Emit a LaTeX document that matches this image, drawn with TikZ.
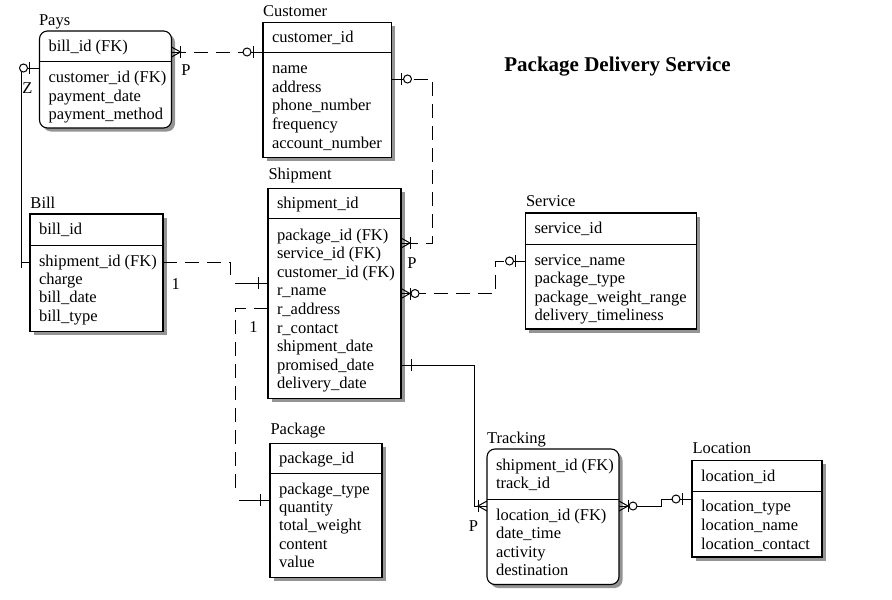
\documentclass[tikz,border=0pt]{standalone}
\usepackage{fontspec}
\setmainfont{Liberation Serif}
\usetikzlibrary{calc,shadows}

\tikzset{
  entity/.style={draw, line width=1.1pt, fill=white, anchor=north west,
    inner sep=0pt, outer sep=0pt,
    drop shadow={shadow xshift=3.5pt, shadow yshift=-3.5pt, fill=black!42, opacity=1}},
  enttitle/.style={anchor=base west, inner sep=0pt, font=\fontsize{16.5}{18}\selectfont},
  attrib/.style={anchor=base west, inner sep=0pt, font=\fontsize{16.5}{18}\selectfont},
  cardlabel/.style={inner sep=0pt, font=\fontsize{16.5}{18}\selectfont},
  nonid/.style={dash pattern=on 14pt off 8pt},
  pics/onebar/.style={code={
    \draw (0,0) -- (12,0);
    \draw (10,-6) -- (10,6);
  }},
  pics/zeroone/.style={code={
    \draw (0,0) -- (20,0);
    \draw (10,-6) -- (10,6);
    \draw[fill=white] (16,0) circle (4);
  }},
  pics/manybar/.style={code={
    \draw (0,0) -- (12,0);
    \draw (0,-5) -- (9,0) -- (0,5);
    \draw (9,-6) -- (9,6);
  }},
  pics/manyzero/.style={code={
    \draw (0,0) -- (18,0);
    \draw (0,-5) -- (9,0) -- (0,5);
    \draw (9.5,-6) -- (9.5,6);
    \draw[fill=white] (14,0) circle (4);
  }},
}

\begin{document}
\begin{tikzpicture}[x=1pt,y=-1pt,line width=1pt]
\useasboundingbox (0,0) rectangle (892,600);

\node[anchor=base, inner sep=0pt, font=\fontsize{21}{25}\selectfont\bfseries] (head) at (617.5,71.5) {Package Delivery Service};

%entities
\node[entity, rounded corners=8pt, minimum width=132pt, minimum height=97pt] (pays) at (39.5,31) {};
\draw ($(pays.north west)+(0,30.5)$) -- ($(pays.north east)+(0,30.5)$);
\node[enttitle] (paysT) at (38.5,25) {Pays};
\node[attrib] (pays0) at (48,51.5) {bill\_id (FK)};
\node[attrib] (pays1) at (48,82.5) {customer\_id (FK)};
\node[attrib] (pays2) at (48,101) {payment\_date};
\node[attrib] (pays3) at (48,119.5) {payment\_method};

\node[entity, minimum width=128.5pt, minimum height=135pt] (cust) at (263,22.5) {};
\draw ($(cust.north west)+(0,30)$) -- ($(cust.north east)+(0,30)$);
\node[enttitle] (custT) at (262.5,16.5) {Customer};
\node[attrib] (cust0) at (271.5,42) {customer\_id};
\node[attrib] (cust1) at (271.5,73.3) {name};
\node[attrib] (cust2) at (271.5,92) {address};
\node[attrib] (cust3) at (271.5,110.8) {phone\_number};
\node[attrib] (cust4) at (271.5,129.5) {frequency};
\node[attrib] (cust5) at (271.5,148.3) {account\_number};

\node[entity, minimum width=133pt, minimum height=210.5pt] (ship) at (268,188.3) {};
\draw ($(ship.north west)+(0,30.5)$) -- ($(ship.north east)+(0,30.5)$);
\node[enttitle] (shipT) at (268,179.5) {Shipment};
\node[attrib] (ship0) at (276.5,208.3) {shipment\_id};
\node[attrib] (ship1) at (276.5,240) {package\_id (FK)};
\node[attrib] (ship2) at (276.5,258.6) {service\_id (FK)};
\node[attrib] (ship3) at (276.5,277.2) {customer\_id (FK)};
\node[attrib] (ship4) at (276.5,295.8) {r\_name};
\node[attrib] (ship5) at (276.5,314.4) {r\_address};
\node[attrib] (ship6) at (276.5,333) {r\_contact};
\node[attrib] (ship7) at (276.5,351.6) {shipment\_date};
\node[attrib] (ship8) at (276.5,370.2) {promised\_date};
\node[attrib] (ship9) at (276.5,388.8) {delivery\_date};

\node[entity, minimum width=133pt, minimum height=117.5pt] (bill) at (30,214) {};
\draw ($(bill.north west)+(0,31)$) -- ($(bill.north east)+(0,31)$);
\node[enttitle] (billT) at (30,208) {Bill};
\node[attrib] (bill0) at (38.5,234) {bill\_id};
\node[attrib] (bill1) at (38.5,266) {shipment\_id (FK)};
\node[attrib] (bill2) at (38.5,284.3) {charge};
\node[attrib] (bill3) at (38.5,302.6) {bill\_date};
\node[attrib] (bill4) at (38.5,321) {bill\_type};

\node[entity, minimum width=171pt, minimum height=116pt] (serv) at (525.5,213) {};
\draw ($(serv.north west)+(0,31)$) -- ($(serv.north east)+(0,31)$);
\node[enttitle] (servT) at (525.5,206.5) {Service};
\node[attrib] (serv0) at (534,233.3) {service\_id};
\node[attrib] (serv1) at (534,265) {service\_name};
\node[attrib] (serv2) at (534,283.5) {package\_type};
\node[attrib] (serv3) at (534,302) {package\_weight\_range};
\node[attrib] (serv4) at (534,320.5) {delivery\_timeliness};

\node[entity, minimum width=112pt, minimum height=134.5pt] (pkg) at (270,443.3) {};
\draw ($(pkg.north west)+(0,30)$) -- ($(pkg.north east)+(0,30)$);
\node[enttitle] (pkgT) at (270,434.5) {Package};
\node[attrib] (pkg0) at (278.5,463.3) {package\_id};
\node[attrib] (pkg1) at (278.5,494) {package\_type};
\node[attrib] (pkg2) at (278.5,512.4) {quantity};
\node[attrib] (pkg3) at (278.5,530.8) {total\_weight};
\node[attrib] (pkg4) at (278.5,549.2) {content};
\node[attrib] (pkg5) at (278.5,567.5) {value};

\node[entity, rounded corners=8pt, minimum width=132pt, minimum height=135.5pt] (track) at (487,449) {};
\draw ($(track.north west)+(0,50)$) -- ($(track.north east)+(0,50)$);
\node[enttitle] (trackT) at (486.5,443.3) {Tracking};
\node[attrib] (track0) at (495.5,470.7) {shipment\_id (FK)};
\node[attrib] (track1) at (495.5,488.5) {track\_id};
\node[attrib] (track2) at (495.5,520) {location\_id (FK)};
\node[attrib] (track3) at (495.5,538.6) {date\_time};
\node[attrib] (track4) at (495.5,557.2) {activity};
\node[attrib] (track5) at (495.5,575.8) {destination};

\node[entity, minimum width=130pt, minimum height=96.5pt] (loc) at (692,460.5) {};
\draw ($(loc.north west)+(0,31)$) -- ($(loc.north east)+(0,31)$);
\node[enttitle] (locT) at (692,453.3) {Location};
\node[attrib] (loc0) at (700.5,481) {location\_id};
\node[attrib] (loc1) at (700.5,511) {location\_type};
\node[attrib] (loc2) at (700.5,530) {location\_name};
\node[attrib] (loc3) at (700.5,549) {location\_contact};

%relationships
\coordinate (pcA) at ($(pays.north east)+(0,21)$);
\coordinate (pcB) at ($(cust.north west)+(0,29.5)$);
\draw[nonid] (pcA) -- (pcB);
\pic at (pcA) {manybar};
\pic[rotate=180] at (pcB) {zeroone};
\node[cardlabel] (pcP) at (186,70) {P};

\coordinate (pzA) at ($(pays.north west)+(0,37)$);
\coordinate (pzB) at ($(bill.north west)+(0,48)$);
\draw (pzA) -| (21,268);
\draw (pzB) -- ++(-9,0);
\pic[rotate=180] at (pzA) {zeroone};
\node[cardlabel] (pzZ) at (27.5,88) {Z};

\coordinate (bsA) at ($(bill.north east)+(0,48)$);
\coordinate (bsB) at ($(ship.north west)+(0,94.7)$);
\draw[nonid] (bsA) -| ($(bsB)+(-38,0)$);
\draw ($(bsB)+(-33,0)$) -- (bsB);
\pic[rotate=180] at (bsB) {onebar};
\node[cardlabel] (bs1) at (175.7,284) {1};

\coordinate (psA) at ($(ship.north west)+(0,120.2)$);
\coordinate (psB) at ($(pkg.north west)+(0,56.7)$);
\draw[nonid] (psA) -| ($(psB)+(-35,-8)$);
\draw ($(psB)+(-31,0)$) -- (psB);
\pic[rotate=180] at (psB) {onebar};
\node[cardlabel] (ps1) at (253.5,327.5) {1};

\coordinate (csA) at ($(cust.north east)+(0,56.5)$);
\coordinate (csB) at ($(ship.north east)+(0,54.7)$);
\draw[nonid] (csA) -- ++(41,0) |- (csB);
\pic at (csA) {zeroone};
\pic at (csB) {manybar};
\node[cardlabel] (csP) at (412,263) {P};

\coordinate (svA) at ($(serv.north west)+(0,48)$);
\coordinate (svB) at ($(ship.north east)+(0,105.2)$);
\draw[nonid] (svA) -- ++(-30.5,0) |- (svB);
\pic[rotate=180] at (svA) {zeroone};
\pic at (svB) {manyzero};

\coordinate (stA) at ($(ship.north east)+(0,176.7)$);
\coordinate (stB) at ($(track.north west)+(0,57)$);
\draw (stA) -| ($(stB)+(-13,0)$) -- (stB);
\pic at (stA) {onebar};
\pic[rotate=180] at (stB) {manybar};
\node[cardlabel] (stP) at (473.5,526) {P};

\coordinate (tlA) at ($(track.north east)+(0,57)$);
\coordinate (tlB) at ($(loc.north west)+(0,38.5)$);
\draw (tlA) -- ($(tlA)+(42,0)$) |- (tlB);
\pic at (tlA) {manyzero};
\pic[rotate=180] at (tlB) {zeroone};

\end{tikzpicture}
\end{document}
